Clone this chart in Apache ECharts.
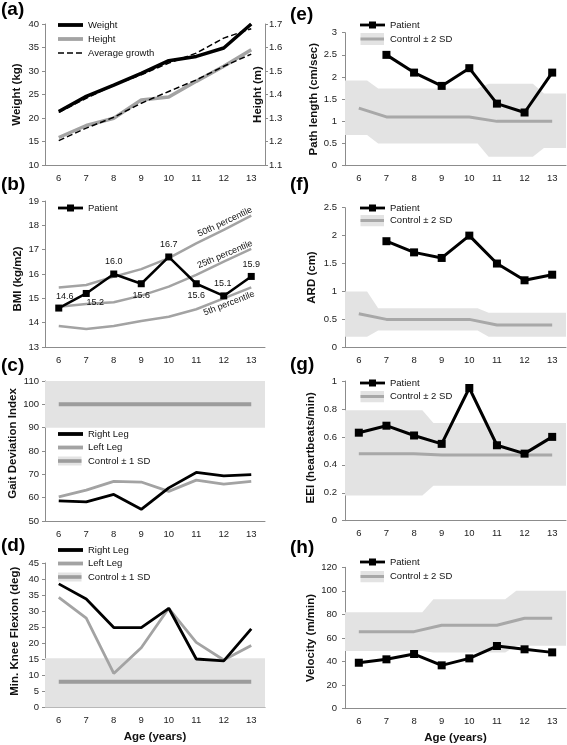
<!DOCTYPE html>
<html><head><meta charset="utf-8">
<script src="https://cdn.jsdelivr.net/npm/echarts@6/dist/echarts.min.js"></script>
<style>html,body{margin:0;padding:0;background:#fff}#c{width:567px;height:745px}</style>
</head><body><div id="c"></div>
<script>
// ---------- DATA ----------
const ages = ['6','7','8','9','10','11','12','13'];
// (a)
const weightKg    = [21.4, 24.6, 27.0, 29.5, 32.2, 33.1, 34.9, 40.0];
const heightM     = [1.217, 1.268, 1.299, 1.377, 1.389, 1.456, 1.52, 1.59];
const avgWeightKg = [21.2, 24.2, 27.0, 29.2, 31.7, 33.8, 37.0, 39.0];
const avgHeightM  = [1.204, 1.257, 1.303, 1.363, 1.413, 1.462, 1.52, 1.572];
// (b)
const bmiPatient = [14.6, 15.2, 16.0, 15.6, 16.7, 15.6, 15.1, 15.9];
const bmiP50 = [15.45, 15.55, 15.89, 16.2, 16.65, 17.26, 17.81, 18.4];
const bmiP25 = [14.65, 14.77, 14.84, 15.11, 15.48, 15.96, 16.51, 17.03];
const bmiP5  = [13.86, 13.74, 13.86, 14.07, 14.24, 14.55, 15.0, 15.45];
// (c)
const gdiRight   = [58.6, 58.2, 61.4, 55.0, 64.2, 70.8, 69.3, 69.9];
const gdiLeft    = [60.3, 63.2, 67.0, 66.7, 62.7, 67.5, 65.8, 67.0];
const gdiControl = [100, 100, 100, 100, 100, 100, 100, 100];
const gdiSdLow   = [90, 90, 90, 90, 90, 90, 90, 90];
const gdiSdHigh  = [110, 110, 110, 110, 110, 110, 110, 110];
// (d)
const kneeRight   = [38.5, 33.8, 24.9, 24.9, 30.9, 15.1, 14.5, 24.5];
const kneeLeft    = [34.3, 27.8, 10.6, 18.6, 30.9, 20.3, 14.8, 19.3];
const kneeControl = [8, 8, 8, 8, 8, 8, 8, 8];
const kneeSdLow   = [0, 0, 0, 0, 0, 0, 0, 0];
const kneeSdHigh  = [15.3, 15.3, 15.3, 15.3, 15.3, 15.3, 15.3, 15.3];
// (e)
const pathPatient = [null, 2.5, 2.1, 1.8, 2.2, 1.4, 1.2, 2.1];
const pathControl = [1.3, 1.1, 1.1, 1.1, 1.1, 1.0, 1.0, 1.0];
const pathSdHigh  = [1.92, 1.74, 1.74, 1.74, 1.74, 1.85, 1.85, 1.63];
const pathSdLow   = [0.69, 0.5, 0.5, 0.5, 0.5, 0.2, 0.2, 0.4];
// (f)
const ardPatient = [null, 1.9, 1.7, 1.6, 2.0, 1.5, 1.2, 1.3];
const ardControl = [0.6, 0.5, 0.5, 0.5, 0.5, 0.4, 0.4, 0.4];
const ardSdHigh  = [1.0, 0.7, 0.7, 0.7, 0.7, 0.62, 0.62, 0.62];
const ardSdLow   = [0.19, 0.3, 0.3, 0.3, 0.3, 0.19, 0.19, 0.19];
// (g)
const eeiPatient = [0.63, 0.68, 0.61, 0.55, 0.95, 0.54, 0.48, 0.60];
const eeiControl = [0.48, 0.48, 0.48, 0.47, 0.47, 0.47, 0.47, 0.47];
const eeiSdHigh  = [0.79, 0.79, 0.79, 0.70, 0.70, 0.70, 0.70, 0.70];
const eeiSdLow   = [0.18, 0.18, 0.18, 0.25, 0.25, 0.25, 0.25, 0.25];
// (h)
const velPatient = [39.0, 41.9, 46.4, 36.8, 42.7, 53.2, 50.4, 47.8];
const velControl = [65.4, 65.4, 65.4, 70.8, 70.8, 70.8, 76.7, 76.7];
const velSdHigh  = [81.8, 81.8, 81.8, 92.8, 92.8, 92.8, 100.2, 100.2];
const velSdLow   = [49.0, 49.0, 49.0, 47.8, 47.8, 47.8, 53.5, 53.5];

// ---------- STYLE ----------
const FONT = '"Liberation Sans", Arial, sans-serif';
const AXIS_COLOR = '#8c8c8c';
const BAND = '#e3e3e3';
const GREY = '#a3a3a3';
const CTRL = '#9c9c9c';
const CTRL2 = '#a8a8a8';

function svgIcon(w, h, inner) {
  return 'image://data:image/svg+xml;charset=utf-8,' + encodeURIComponent(
    '<svg xmlns="http://www.w3.org/2000/svg" width="' + w + '" height="' + h + '" viewBox="0 0 ' + w + ' ' + h + '" preserveAspectRatio="none">' + inner + '</svg>');
}
const ICON_BLACK = svgIcon(25, 10, '<rect x="0" y="3.1" width="25" height="3.8" fill="#000"/>');
const ICON_GREY = svgIcon(25, 10, '<rect x="0" y="3.1" width="25" height="3.8" fill="' + GREY + '"/>');
const ICON_DASH = svgIcon(25, 10, '<line x1="0" y1="5" x2="25" y2="5" stroke="#000" stroke-width="1.5" stroke-dasharray="6,3"/>');
const ICON_CTRL1 = svgIcon(25, 10, '<rect x="0" y="0.5" width="23.5" height="9" fill="' + BAND + '"/><rect x="0" y="3.2" width="23.5" height="3.6" fill="' + CTRL + '"/>');
const ICON_PATIENT = svgIcon(25, 12, '<rect x="0" y="4.6" width="25" height="2.8" fill="#000"/><rect x="9" y="2.5" width="7" height="7" fill="#000"/>');
const ICON_CTRL2 = svgIcon(25, 12, '<rect x="0.5" y="0" width="23.5" height="12" fill="' + BAND + '"/><rect x="0.5" y="4.5" width="23.5" height="3" fill="' + CTRL2 + '"/>');

const grids = [
  {left: 45, width: 220, top: 24, height: 141},
  {left: 45, width: 220, top: 201, height: 146},
  {left: 45, width: 220, top: 381, height: 140},
  {left: 45, width: 220, top: 563, height: 144.5},
  {left: 345, width: 221, top: 32.7, height: 133},
  {left: 345, width: 221, top: 207.7, height: 139.6},
  {left: 345, width: 221, top: 381, height: 139.7},
  {left: 345, width: 221, top: 567.3, height: 141.4}
];

function xAx(g, name) {
  return {
    type: 'category', gridIndex: g, data: ages, boundaryGap: true,
    axisLine: {lineStyle: {color: AXIS_COLOR, width: 1}},
    axisTick: {interval: 0, length: 4, lineStyle: {color: AXIS_COLOR}},
    axisLabel: {interval: 0, fontSize: 9.5, color: '#222', margin: 8, fontFamily: FONT},
    splitLine: {show: false},
    name: name || '', nameLocation: 'middle', nameGap: 23,
    nameTextStyle: {fontFamily: FONT, fontWeight: 'bold', fontSize: 11.5, color: '#111'}
  };
}
function yAx(g, min, max, interval, name, gap, margin, pad, extra) {
  return Object.assign({
    type: 'value', gridIndex: g, min: min, max: max, interval: interval,
    axisLine: {show: true, lineStyle: {color: AXIS_COLOR, width: 1}},
    axisTick: {show: true, length: 3, lineStyle: {color: AXIS_COLOR}},
    axisLabel: {fontSize: 9.5, color: '#222', margin: margin, fontFamily: FONT},
    splitLine: {show: false},
    name: name, nameLocation: 'middle', nameGap: gap, nameRotate: 90,
    nameTextStyle: {fontFamily: FONT, fontWeight: 'bold', fontSize: 11.5, color: '#111', padding: pad || 0}
  }, extra || {});
}

function bandSeries(g, lo, hi) {
  return {
    type: 'custom', name: 'band' + g, xAxisIndex: g, yAxisIndex: g, silent: true, z: 1,
    data: ages.map((a, i) => [i, lo[i], hi[i]]),
    encode: {x: 0, y: [1, 2]},
    renderItem: function (params, api) {
      if (params.dataIndex !== 0) return null;
      const w = api.size([1, 0])[0];
      const d = 0.2 * w;
      const n = lo.length;
      const top = [], bot = [];
      for (let i = 0; i < n; i++) {
        const ph = api.coord([i, hi[i]]);
        const pl = api.coord([i, lo[i]]);
        const xl = ph[0] - w / 2 + (i === 0 ? 0 : d);
        const xr = ph[0] + w / 2 - (i === n - 1 ? 0 : d);
        top.push([xl, ph[1]], [xr, ph[1]]);
        bot.push([xl, pl[1]], [xr, pl[1]]);
      }
      return {type: 'polygon', shape: {points: top.concat(bot.reverse())}, style: {fill: BAND}};
    }
  };
}
function lineSeries(g, name, vals, color, width, extra) {
  return Object.assign({
    type: 'line', name: name, xAxisIndex: g, yAxisIndex: g, data: vals,
    symbol: 'none', lineStyle: {color: color, width: width}, itemStyle: {color: color},
    z: 3, silent: true
  }, extra || {});
}
function patientSeries(g, vals, extra) {
  return Object.assign({
    type: 'line', name: 'Patient', xAxisIndex: g, yAxisIndex: g, data: vals,
    symbol: 'rect', symbolSize: 8, lineStyle: {color: '#000', width: 3},
    itemStyle: {color: '#000'}, z: 5, silent: true
  }, extra || {});
}
function legend(left, top, items, itemH, gap) {
  return {
    left: left, top: top, orient: 'vertical', padding: 0, itemWidth: 25, itemHeight: itemH,
    itemGap: gap, selectedMode: false,
    textStyle: {fontFamily: FONT, fontSize: 9.5, color: '#111'},
    data: items
  };
}

// BMI label placement (style only)
const bmiLabelPos = ['top', 'bottom', 'top', 'bottom', 'top', 'bottom', 'top', 'top'];
const bmiLabelOff = [[6, 0], [9, -3], [0, 0], [0, 0], [0, 0], [0, 0], [-1, 0], [0, 0]];

const option = {
  animation: false,
  backgroundColor: '#fff',
  textStyle: {fontFamily: FONT},
  grid: grids,
  xAxis: [xAx(0), xAx(1), xAx(2), xAx(3, 'Age (years)'), xAx(4), xAx(5), xAx(6), xAx(7, 'Age (years)')],
  yAxis: [
    yAx(0, 10, 40, 5, 'Weight (kg)', 22, 6),
    yAx(1, 13, 19, 1, 'BMI (kg/m2)', 21, 6, [0, 10, 0, 0]),
    yAx(2, 50, 110, 10, 'Gait Deviation Index', 24, 6, [0, 0, 0, 15]),
    yAx(3, 0, 45, 5, 'Min. Knee Flexion (deg)', 24, 6, [0, 0, 0, 8]),
    yAx(4, 0, 3, 0.5, 'Path length (cm/sec)', 25, 8),
    yAx(5, 0, 2.5, 0.5, 'ARD (cm)', 27, 8),
    yAx(6, 0, 1, 0.2, 'EEI (heartbeats/min)', 28, 8, [0, 0, 0, 6]),
    yAx(7, 0, 120, 20, 'Velocity (m/min)', 27, 8),
    yAx(0, 1.1, 1.7, 0.1, 'Height (m)', -13, 4, 0, {
      position: 'right',
      axisLabel: {fontSize: 9.5, color: '#222', margin: 4, fontFamily: FONT, formatter: v => v.toFixed(1)}
    })
  ],
  legend: [
    legend(58, 20, [
      {name: 'Weight', icon: ICON_BLACK},
      {name: 'Height', icon: ICON_GREY},
      {name: 'Average growth', icon: ICON_DASH}
    ], 10, 4),
    legend(58, 202, [{name: 'Patient', icon: ICON_PATIENT}], 12, 2),
    legend(58, 429, [
      {name: 'Right Leg', icon: ICON_BLACK},
      {name: 'Left Leg', icon: ICON_GREY},
      {name: 'Control \u00b1 1 SD', icon: ICON_CTRL1}
    ], 10, 3.5),
    legend(58, 545, [
      {name: 'Right Leg', icon: ICON_BLACK},
      {name: 'Left Leg', icon: ICON_GREY},
      {name: 'Control \u00b1 1 SD', icon: ICON_CTRL1}
    ], 10, 3.5),
    legend(360, 19, [{name: 'Patient', icon: ICON_PATIENT}, {name: 'Control \u00b1 2 SD', icon: ICON_CTRL2}], 12, 2),
    legend(360, 202, [{name: 'Patient', icon: ICON_PATIENT}, {name: 'Control \u00b1 2 SD', icon: ICON_CTRL2}], 12, 0.5),
    legend(360, 377, [{name: 'Patient', icon: ICON_PATIENT}, {name: 'Control \u00b1 2 SD', icon: ICON_CTRL2}], 12, 1.5),
    legend(360, 556, [{name: 'Patient', icon: ICON_PATIENT}, {name: 'Control \u00b1 2 SD', icon: ICON_CTRL2}], 12, 2.5)
  ],
  series: [
    // (a)
    lineSeries(0, 'Weight', weightKg, '#000', 3.5),
    Object.assign(lineSeries(0, 'Height', heightM, GREY, 3.5), {yAxisIndex: 8}),
    lineSeries(0, 'Average growth', avgWeightKg, '#000', 1.5, {lineStyle: {color: '#000', width: 1.5, type: [6, 3]}, z: 4}),
    Object.assign(lineSeries(0, 'Average growth', avgHeightM, '#000', 1.5, {lineStyle: {color: '#000', width: 1.5, type: [6, 3]}, z: 4}), {yAxisIndex: 8}),
    // (b)
    lineSeries(1, 'p50', bmiP50, GREY, 2.5),
    lineSeries(1, 'p25', bmiP25, GREY, 2.5),
    lineSeries(1, 'p5', bmiP5, GREY, 2.5),
    patientSeries(1, bmiPatient.map((v, i) => ({
      value: v,
      label: {show: true, position: bmiLabelPos[i], offset: bmiLabelOff[i], distance: 4,
        formatter: bmiPatient[i].toFixed(1), fontSize: 9, color: '#111', fontFamily: FONT}
    })), {symbolSize: 7, lineStyle: {color: '#000', width: 2.5}}),
    // (c)
    bandSeries(2, gdiSdLow, gdiSdHigh),
    lineSeries(2, 'Control \u00b1 1 SD', gdiControl, CTRL, 4, {z: 2}),
    lineSeries(2, 'Left Leg', gdiLeft, GREY, 2.8),
    lineSeries(2, 'Right Leg', gdiRight, '#000', 2.8),
    // (d)
    bandSeries(3, kneeSdLow, kneeSdHigh),
    lineSeries(3, 'Control \u00b1 1 SD', kneeControl, CTRL, 4, {z: 2}),
    lineSeries(3, 'Left Leg', kneeLeft, GREY, 2.8),
    lineSeries(3, 'Right Leg', kneeRight, '#000', 2.8),
    // (e)
    bandSeries(4, pathSdLow, pathSdHigh),
    lineSeries(4, 'Control \u00b1 2 SD', pathControl, CTRL2, 3, {z: 2}),
    patientSeries(4, pathPatient),
    // (f)
    bandSeries(5, ardSdLow, ardSdHigh),
    lineSeries(5, 'Control \u00b1 2 SD', ardControl, CTRL2, 3, {z: 2}),
    patientSeries(5, ardPatient),
    // (g)
    bandSeries(6, eeiSdLow, eeiSdHigh),
    lineSeries(6, 'Control \u00b1 2 SD', eeiControl, CTRL2, 3, {z: 2}),
    patientSeries(6, eeiPatient),
    // (h)
    bandSeries(7, velSdLow, velSdHigh),
    lineSeries(7, 'Control \u00b1 2 SD', velControl, CTRL2, 3, {z: 2}),
    patientSeries(7, velPatient)
  ],
  graphic: [
    {type: 'text', left: 1, top: 0, style: {text: '(a)', font: 'bold 19px "Liberation Sans"', fill: '#000'}},
    {type: 'text', left: 1, top: 175, style: {text: '(b)', font: 'bold 19px "Liberation Sans"', fill: '#000'}},
    {type: 'text', left: 1, top: 356, style: {text: '(c)', font: 'bold 19px "Liberation Sans"', fill: '#000'}},
    {type: 'text', left: 1, top: 536, style: {text: '(d)', font: 'bold 19px "Liberation Sans"', fill: '#000'}},
    {type: 'text', left: 290, top: 5, style: {text: '(e)', font: 'bold 19px "Liberation Sans"', fill: '#000'}},
    {type: 'text', left: 290, top: 175, style: {text: '(f)', font: 'bold 19px "Liberation Sans"', fill: '#000'}},
    {type: 'text', left: 290, top: 355, style: {text: '(g)', font: 'bold 19px "Liberation Sans"', fill: '#000'}},
    {type: 'text', left: 290, top: 538, style: {text: '(h)', font: 'bold 19px "Liberation Sans"', fill: '#000'}},
    {type: 'text', x: 225, y: 222, rotation: 0.44, style: {text: '50th percentile', font: '9px "Liberation Sans"', fill: '#111', textAlign: 'center', textVerticalAlign: 'middle'}},
    {type: 'text', x: 225, y: 254.5, rotation: 0.40, style: {text: '25th percentile', font: '9px "Liberation Sans"', fill: '#111', textAlign: 'center', textVerticalAlign: 'middle'}},
    {type: 'text', x: 229, y: 303.5, rotation: 0.37, style: {text: '5th percentile', font: '9px "Liberation Sans"', fill: '#111', textAlign: 'center', textVerticalAlign: 'middle'}}
  ]
};

const chart = echarts.init(document.getElementById('c'), null, {renderer: 'canvas'});
chart.setOption(option);
</script>
</body></html>
